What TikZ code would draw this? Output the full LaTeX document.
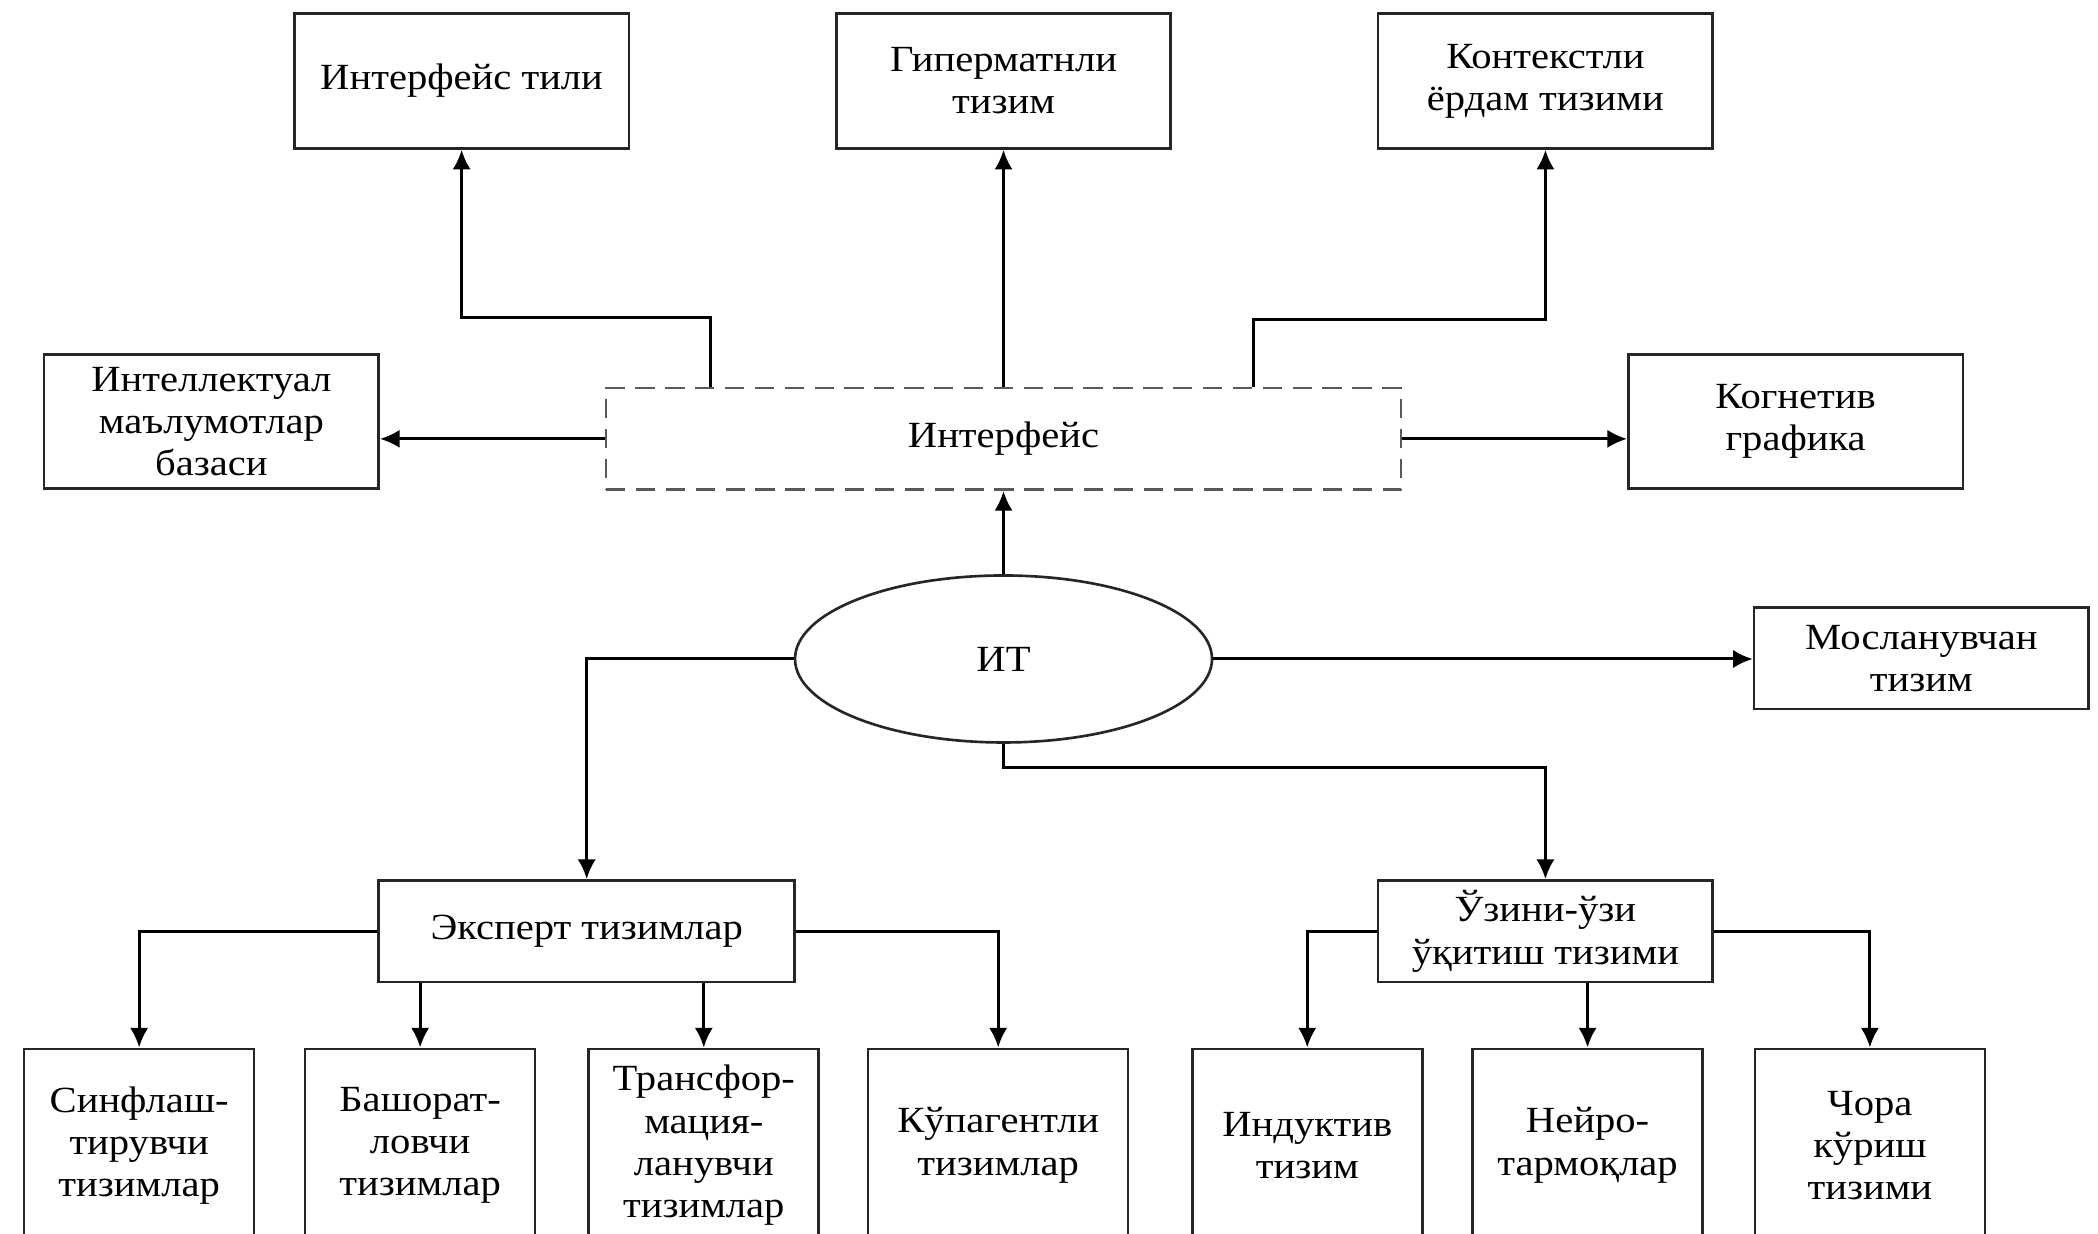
\documentclass[tikz,border=0pt]{standalone}
\usepackage{fontspec}
\setmainfont{Liberation Serif}[FakeStretch=1.1]
\usepackage{tikz}
\usetikzlibrary{arrows.meta,shapes.geometric}

\tikzset{
  box/.style={draw=black!85, line width=0.75pt, rectangle, inner sep=0pt, align=center,
    font=\fontsize{10.5}{12}\selectfont},
  topbox/.style={box, minimum width=3.345cm, minimum height=1.351cm},
  flatbox/.style={box, minimum height=1.017cm},
  leafbox/.style={box, minimum width=2.30cm, minimum height=1.93cm},
  dbox/.style={box, draw=black!65, dash pattern=on 5.5pt off 3pt},
  arr/.style={-{Latex[length=5.6pt,width=5.2pt]}, line width=0.85pt}
}

\begin{document}
\begin{tikzpicture}[x=1.338cm, y=-1.338cm]
\useasboundingbox (0,0) rectangle (15.68,9.22);

\node[topbox] (T1) at (3.45, 0.605) {Интерфейс тили};
\node[topbox] (T2) at (7.50, 0.605) {Гиперматнли\\тизим};
\node[topbox] (T3) at (11.55, 0.605) {Контекстли\\ёрдам тизими};
\node[box, minimum width=3.345cm, minimum height=1.338cm] (L1) at (1.58, 3.15) {Интеллектуал\\маълумотлар\\базаси};
\node[box, minimum width=3.345cm, minimum height=1.338cm] (R1) at (13.42, 3.15) {Когнетив\\графика};
\node[dbox, minimum width=7.95cm, minimum height=1.017cm] (IF) at (7.50, 3.28) {Интерфейс};
\node[box, ellipse, minimum width=4.17cm, minimum height=1.67cm] (IT) at (7.50, 4.925) {ИТ};
\node[flatbox, minimum width=3.345cm] (M) at (14.36, 4.92) {Мосланувчан\\тизим};
\node[flatbox, minimum width=4.16cm] (E) at (4.385, 6.96) {Эксперт тизимлар};
\node[flatbox, minimum width=3.345cm] (U) at (11.55, 6.96) {Ўзини-ўзи\\ўқитиш тизими};

\node[leafbox] (B1) at (1.04, 8.56) {Синфлаш-\\тирувчи\\тизимлар};
\node[leafbox] (B2) at (3.14, 8.56) {Башорат-\\ловчи\\тизимлар};
\node[leafbox] (B3) at (5.26, 8.56) {Трансфор-\\мация-\\ланувчи\\тизимлар};
\node[leafbox, minimum width=2.60cm] (B4) at (7.46, 8.56) {Кўпагентли\\тизимлар};
\node[leafbox] (B5) at (9.77, 8.56) {Индуктив\\тизим};
\node[leafbox] (B6) at (11.865, 8.56) {Нейро-\\тармоқлар};
\node[leafbox] (B7) at (13.975, 8.56) {Чора\\кўриш\\тизими};

\draw[arr] ([xshift=-2.93cm]IF.north) -- ++(0,-0.52) -| (T1.south);
\draw[arr] (IF.north) -- (T2.south);
\draw[arr] ([xshift=2.50cm]IF.north) -- ++(0,-0.50) -| (T3.south);
\draw[arr] (IF.west) -- (IF.west -| L1.east);
\draw[arr] (IF.east) -- (IF.east -| R1.west);

\draw[arr] (IT.north) -- (IF.south);
\draw[arr] (IT.west) -| (E.north);
\draw[arr] (IT.east) -- (IT.east -| M.west);
\draw[arr] (IT.south) -- ++(0,0.18) -| (U.north);

\draw[arr] (E.west) -| (B1.north);
\draw[arr] (B2.north |- E.south) -- (B2.north);
\draw[arr] (B3.north |- E.south) -- (B3.north);
\draw[arr] (E.east) -| (B4.north);
\draw[arr] (U.west) -| (B5.north);
\draw[arr] (B6.north |- U.south) -- (B6.north);
\draw[arr] (U.east) -| (B7.north);

\end{tikzpicture}
\end{document}
